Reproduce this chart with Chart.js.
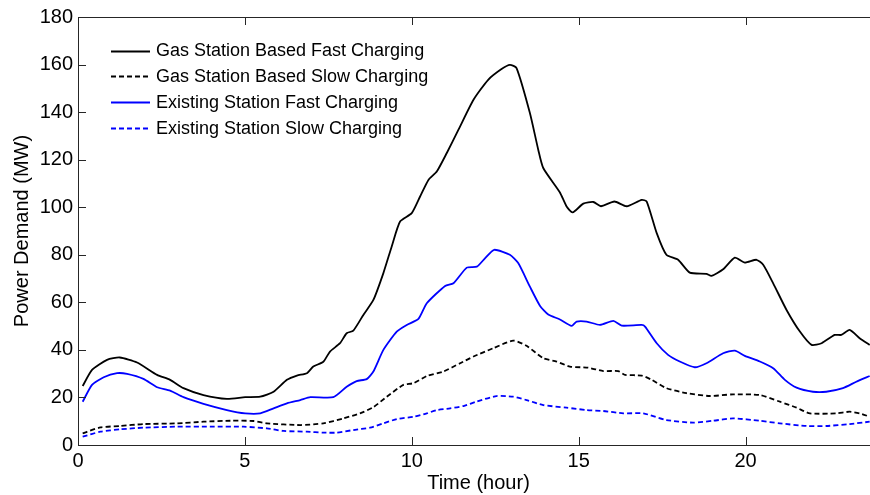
<!DOCTYPE html>
<html>
<head>
<meta charset="utf-8">
<script src="https://cdn.jsdelivr.net/npm/chart.js@4"></script>
<style>
  html, body { margin: 0; padding: 0; background: #fff; overflow: hidden; }
  #wrap { width: 880px; height: 495px; }
</style>
</head>
<body>
<div id="wrap"><canvas id="grafico" width="880" height="495"></canvas></div>
<script>
'use strict';

// ── Dati: domanda di potenza (MW) nelle 24 ore ─────────────────
const gasFastHours = [0.14, 0.42, 0.87, 1.25, 1.77, 2.37, 2.76, 3.16, 3.76, 4.46, 5.01, 5.46, 5.86, 6.26, 6.56, 6.86,
  7.05, 7.35, 7.55, 7.85, 8.05, 8.25, 8.55, 8.85, 9.15, 9.4, 9.65, 10.0, 10.25, 10.5, 10.75, 11.05, 11.4, 11.85,
  12.29, 12.69, 12.94, 13.14, 13.54, 13.79, 13.94, 14.44, 14.64, 14.82, 15.14, 15.44, 15.67, 16.07, 16.44, 16.89,
  17.04, 17.34, 17.63, 17.98, 18.33, 18.83, 18.98, 19.33, 19.68, 19.98, 20.33, 20.53, 20.83, 21.23, 21.63, 21.98,
  22.28, 22.67, 22.87, 23.12, 23.42, 23.72];
const gasFast = [24.8, 31.6, 35.8, 36.8, 34.7, 29.5, 27.4, 23.9, 21.0, 19.4, 20.1, 20.3, 22.4, 27.4, 29.2, 30.2,
  33.0, 35.0, 39.3, 42.8, 47.0, 48.1, 54.7, 61.0, 72.3, 83.5, 94.0, 97.5, 104.5, 111.5, 115.0, 122.8, 132.6, 145.2,
  153.6, 158.1, 159.9, 158.5, 139.6, 124.2, 116.5, 106.2, 100.3, 97.8, 101.5, 102.2, 100.4, 102.4, 100.4, 103.1,
  102.4, 89.1, 80.0, 77.9, 72.5, 72.0, 71.1, 73.9, 78.8, 76.7, 77.9, 75.8, 68.0, 56.8, 47.7, 42.1,
  42.8, 46.3, 46.3, 48.4, 44.9, 42.1];

const gasSlowHours = [0.14, 0.67, 1.27, 1.96, 2.96, 3.76, 4.56, 5.26, 5.66, 6.66, 7.35, 7.95, 8.45, 8.85, 9.25,
  9.75, 10.05, 10.45, 10.95, 11.45, 11.85, 12.44, 13.04, 13.44, 13.94, 14.34, 14.74, 15.29, 15.74, 16.19, 16.39,
  16.89, 17.19, 17.63, 18.23, 18.93, 19.63, 20.43, 21.03, 21.53, 21.93, 22.72, 23.12, 23.42, 23.72];
const gasSlow = [4.9, 7.4, 8.0, 8.8, 9.1, 9.8, 10.2, 10.1, 9.1, 8.4, 9.1, 11.2, 13.3, 15.9, 20.3,
  25.3, 26.0, 29.0, 30.9, 34.4, 37.2, 40.7, 43.9, 41.7, 36.5, 35.1, 33.0, 32.5, 31.1, 31.1, 29.5,
  29.2, 27.4, 23.9, 21.8, 20.6, 21.3, 21.0, 18.2, 15.7, 13.3, 13.3, 14.0, 13.3, 11.9];

const existFastHours = [0.14, 0.42, 0.77, 1.17, 1.47, 1.96, 2.37, 2.76, 3.16, 3.76, 4.46, 5.01, 5.46, 5.86, 6.26,
  6.66, 6.96, 7.65, 8.05, 8.35, 8.65, 8.85, 9.15, 9.55, 9.85, 10.2, 10.45, 11.0, 11.25, 11.65, 11.95, 12.2, 12.47,
  12.94, 13.19, 13.54, 13.84, 14.09, 14.44, 14.79, 14.94, 15.24, 15.64, 16.04, 16.29, 16.89, 16.99, 17.34, 17.68,
  18.03, 18.48, 18.83, 19.33, 19.68, 19.98, 20.43, 20.83, 21.18, 21.53, 22.02, 22.42, 22.92, 23.32, 23.72];
const existFast = [18.2, 25.3, 28.5, 30.2, 29.9, 27.8, 24.3, 22.9, 20.1, 17.3, 14.7, 13.3, 13.3, 15.4, 17.5,
  18.9, 20.1, 20.1, 24.5, 26.9, 27.7, 30.9, 40.0, 47.7, 50.5, 53.0, 59.6, 66.9, 68.0, 74.6, 75.0, 78.6, 82.1,
  80.0, 76.5, 66.6, 58.6, 54.9, 52.8, 50.1, 51.9, 51.9, 50.5, 52.2, 50.2, 50.5, 49.8, 42.8, 37.9,
  35.1, 32.7, 34.4, 38.6, 39.7, 37.5, 35.1, 32.3, 27.4, 24.1, 22.4, 22.4, 23.9, 26.6, 29.0];

const existSlowHours = [0.14, 0.67, 1.27, 1.96, 2.96, 3.96, 4.96, 5.66, 6.16, 6.86, 7.35, 7.75, 8.25, 8.75, 9.15,
  9.55, 10.05, 10.45, 10.75, 11.15, 11.55, 11.95, 12.54, 13.04, 13.44, 13.94, 14.64, 15.24, 15.74, 16.34, 16.94,
  17.63, 18.43, 19.03, 19.63, 20.43, 21.03, 21.83, 22.42, 23.12, 23.72];
const existSlow = [3.5, 5.6, 6.6, 7.3, 7.7, 7.7, 7.7, 7.0, 5.9, 5.6, 5.2, 5.2, 6.3, 7.3, 9.1,
  10.9, 11.9, 13.3, 14.7, 15.4, 16.4, 18.3, 20.6, 20.3, 18.9, 16.8, 15.7, 14.7, 14.3, 13.3, 13.3,
  10.5, 9.4, 10.2, 11.2, 10.2, 9.1, 8.0, 8.0, 8.8, 9.8];

const seriesLabels = [
  'Gas Station Based Fast Charging',
  'Gas Station Based Slow Charging',
  'Existing Station Fast Charging',
  'Existing Station Slow Charging'
];
const xTicks = [0, 5, 10, 15, 20];
const yTicks = [0, 20, 40, 60, 80, 100, 120, 140, 160, 180];

const FONT = "'Liberation Sans', Arial, sans-serif";
const DASH = [5, 3];

function punti(xs, ys) {
  return xs.map((x, i) => ({ x: x, y: ys[i] }));
}

// riquadro degli assi + tacche rivolte verso l'interno
const boxPlugin = {
  id: 'boxAssi',
  afterDraw(chart) {
    const { ctx, chartArea: a, scales } = chart;
    ctx.save();
    ctx.strokeStyle = '#262626';
    ctx.lineWidth = 1;
    ctx.beginPath();
    ctx.rect(Math.round(a.left) + 0.5, Math.round(a.top) + 0.5,
      Math.round(a.right - a.left), Math.round(a.bottom - a.top));
    const tl = 8;
    xTicks.forEach(v => {
      const px = Math.round(scales.x.getPixelForValue(v)) + 0.5;
      ctx.moveTo(px, a.bottom); ctx.lineTo(px, a.bottom - tl);
      ctx.moveTo(px, a.top); ctx.lineTo(px, a.top + tl);
    });
    yTicks.forEach(v => {
      const py = Math.round(scales.y.getPixelForValue(v)) + 0.5;
      ctx.moveTo(a.left, py); ctx.lineTo(a.left + tl, py);
    });
    ctx.stroke();
    ctx.restore();
  }
};

// legenda nell'angolo in alto a sinistra
const legendaPlugin = {
  id: 'legendaInterna',
  afterDraw(chart) {
    const { ctx } = chart;
    ctx.save();
    ctx.font = '18px ' + FONT;
    ctx.textBaseline = 'middle';
    chart.data.datasets.forEach((ds, i) => {
      const y = 50.5 + i * 25.7;
      ctx.strokeStyle = ds.borderColor;
      ctx.lineWidth = ds.borderWidth;
      ctx.setLineDash(ds.borderDash || []);
      ctx.beginPath();
      ctx.moveTo(111, Math.round(y) + 0.5);
      ctx.lineTo(150, Math.round(y) + 0.5);
      ctx.stroke();
      ctx.setLineDash([]);
      ctx.fillStyle = '#000';
      ctx.fillText(ds.label, 156, y + 1);
    });
    ctx.restore();
  }
};

const ctx = document.getElementById('grafico').getContext('2d');

new Chart(ctx, {
  type: 'line',
  data: {
    datasets: [
      { label: seriesLabels[0], data: punti(gasFastHours, gasFast), borderColor: '#000000', borderWidth: 1.8 },
      { label: seriesLabels[1], data: punti(gasSlowHours, gasSlow), borderColor: '#000000', borderWidth: 1.8, borderDash: DASH },
      { label: seriesLabels[2], data: punti(existFastHours, existFast), borderColor: '#0000ff', borderWidth: 1.8 },
      { label: seriesLabels[3], data: punti(existSlowHours, existSlow), borderColor: '#0000ff', borderWidth: 1.8, borderDash: DASH }
    ]
  },
  options: {
    responsive: false,
    animation: false,
    devicePixelRatio: 1,
    layout: { padding: { top: 17, right: 1, left: 0, bottom: 0 } },
    elements: {
      point: { radius: 0 },
      line: { tension: 0.2, fill: false }
    },
    plugins: {
      legend: { display: false },
      tooltip: { enabled: false }
    },
    scales: {
      x: {
        type: 'linear', min: 0, max: 24,
        afterBuildTicks: s => { s.ticks = xTicks.map(v => ({ value: v })); },
        afterFit: s => { s.height = 50; },
        grid: { display: false, drawTicks: false },
        border: { display: false },
        ticks: { color: '#000', font: { family: FONT, size: 20 }, padding: 4, maxRotation: 0 },
        title: { display: true, text: 'Time (hour)', color: '#000', font: { family: FONT, size: 20 }, padding: { top: 0, bottom: 0 } }
      },
      y: {
        min: 0, max: 180,
        afterBuildTicks: s => { s.ticks = yTicks.map(v => ({ value: v })); },
        afterFit: s => { s.width = 78; },
        grid: { display: false, drawTicks: false },
        border: { display: false },
        ticks: { color: '#000', font: { family: FONT, size: 20 }, padding: 5 },
        title: { display: true, text: 'Power Demand (MW)', color: '#000', font: { family: FONT, size: 20 }, padding: { top: 10, bottom: 0 } }
      }
    }
  },
  plugins: [boxPlugin, legendaPlugin]
});
</script>
</body>
</html>
